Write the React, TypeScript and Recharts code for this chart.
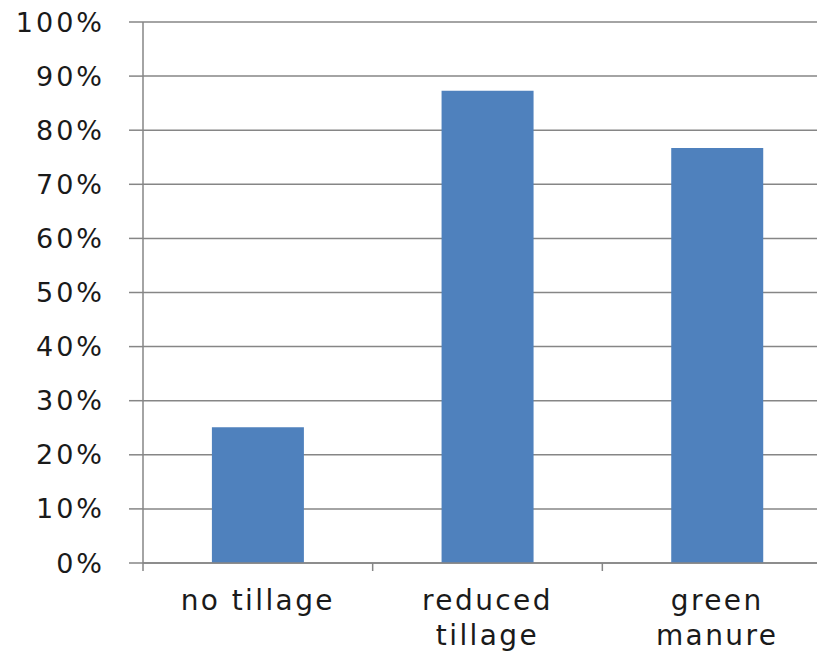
import { Bar, BarChart, CartesianGrid, XAxis, YAxis } from "recharts"

// Values (share of farms, %)
const categories = ["no tillage", "reduced tillage", "green manure"]
const shares = [25.1, 87.3, 76.7]
// How the x labels wrap in the original
const categoryLines = [["no tillage"], ["reduced", "tillage"], ["green", "manure"]]
const yTicks = [0, 10, 20, 30, 40, 50, 60, 70, 80, 90, 100]

const data = categories.map((name, i) => ({ name, share: shares[i] }))

const axisGrey = "#868686"
const font = "'DejaVu Sans', sans-serif"
const xTickSize = 8
const xTickMargin = 19

// label + an Excel-style tick mark on the left edge of each category band
const CategoryTick = (props: any) => {
  const { x, y, index, payload } = props
  const lines = categoryLines[index] || [payload.value]
  const half = payload && payload.offset ? payload.offset : 0
  const axisY = y - xTickMargin - xTickSize
  return (
    <g>
      {half > 0 && (
        <line
          x1={x - half}
          x2={x - half}
          y1={axisY}
          y2={axisY + xTickSize}
          stroke={axisGrey}
          strokeWidth={1.5}
        />
      )}
      <text
        x={x}
        y={y}
        textAnchor="middle"
        fill="#1a1a1a"
        fontFamily={font}
        fontSize={28}
        letterSpacing={2.4}
      >
        {lines.map((line: string, i: number) => (
          <tspan key={i} x={x} dy={i === 0 ? 20 : 35}>
            {line}
          </tspan>
        ))}
      </text>
    </g>
  )
}

export default function App() {
  return (
    <div style={{ position: "absolute", left: 0, top: 0, width: 817, height: 654, overflow: "hidden", background: "#fff" }}>
      <BarChart
        width={840}
        height={654}
        data={data}
        margin={{ top: 22, right: 8, left: 0, bottom: 0 }}
        barCategoryGap="30%"
      >
        <CartesianGrid vertical={false} stroke={axisGrey} strokeWidth={1.5} />
        <XAxis
          dataKey="name"
          height={91}
          interval={0}
          stroke={axisGrey}
          strokeWidth={1.5}
          tickLine={false}
          tickSize={xTickSize}
          tickMargin={xTickMargin}
          tick={<CategoryTick />}
        />
        <YAxis
          width={143}
          domain={[0, 100]}
          ticks={yTicks}
          tickFormatter={(v) => `${v}%`}
          stroke={axisGrey}
          strokeWidth={1.5}
          tickSize={14}
          tickMargin={24}
          tick={{ fill: "#1a1a1a", fontFamily: font, fontSize: 27, letterSpacing: 3 }}
        />
        <Bar dataKey="share" fill="#4F81BD" isAnimationActive={false} />
      </BarChart>
    </div>
  )
}
